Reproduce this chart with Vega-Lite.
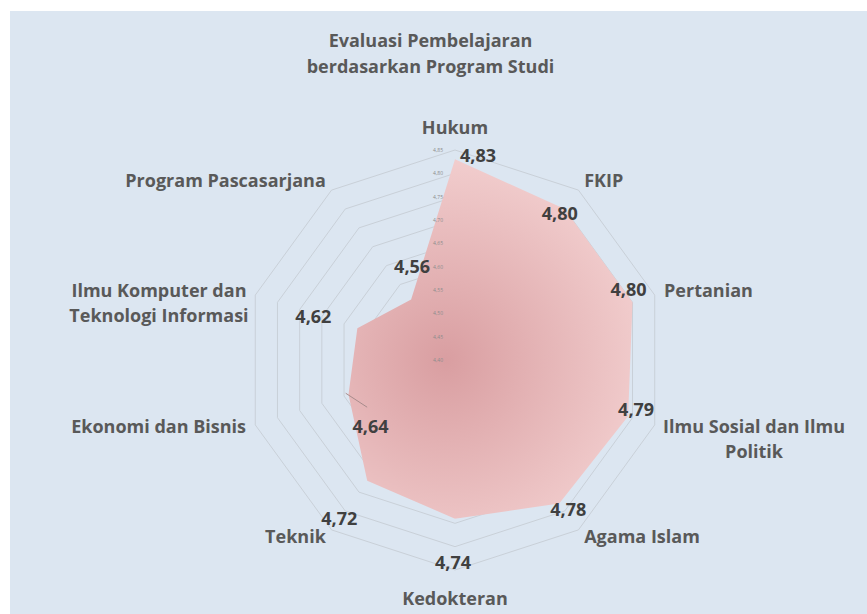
{
  "$schema": "https://vega.github.io/schema/vega-lite/v6.json",
  "width": 857,
  "height": 603,
  "autosize": {"type": "none"},
  "padding": {"left": 10, "top": 11, "right": 0, "bottom": 0},
  "background": "#ffffff",
  "config": {"view": {"fill": "#dce6f1", "stroke": null}},
  "title": {
    "text": ["Evaluasi Pembelajaran", "berdasarkan Program Studi"],
    "anchor": "middle",
    "frame": "group",
    "offset": -66,
    "dx": -8,
    "font": "Open Sans",
    "fontSize": 18,
    "fontWeight": "bold",
    "color": "#595959",
    "lineHeight": 26
  },
  "datasets": {
    "scores": [
      {"prodi": "Hukum", "nilai": 4.83},
      {"prodi": "FKIP", "nilai": 4.80},
      {"prodi": "Pertanian", "nilai": 4.80},
      {"prodi": "Ilmu Sosial dan Ilmu Politik", "nilai": 4.79},
      {"prodi": "Agama Islam", "nilai": 4.78},
      {"prodi": "Kedokteran", "nilai": 4.74},
      {"prodi": "Teknik", "nilai": 4.72},
      {"prodi": "Ekonomi dan Bisnis", "nilai": 4.64},
      {"prodi": "Ilmu Komputer dan Teknologi Informasi", "nilai": 4.62},
      {"prodi": "Program Pascasarjana", "nilai": 4.56}
    ],
    "levels": [
      {"level": 4.40}, {"level": 4.45}, {"level": 4.50}, {"level": 4.55}, {"level": 4.60},
      {"level": 4.65}, {"level": 4.70}, {"level": 4.75}, {"level": 4.80}, {"level": 4.85}
    ]
  },
  "encoding": {
    "x": {"field": "px", "type": "quantitative", "scale": {"domain": [-0.95357, 0.88286], "nice": false, "zero": false}, "axis": null},
    "y": {"field": "py", "type": "quantitative", "scale": {"domain": [-0.54429, 0.74786], "nice": false, "zero": false}, "axis": null}
  },
  "layer": [
    {
      "data": {"name": "levels"},
      "transform": [
        {"filter": "datum.level > 4.41"},
        {"calculate": "0", "as": "k"},
        {"calculate": "1", "as": "d"},
        {"impute": "d", "key": "k", "keyvals": [0, 1, 2, 3, 4, 5, 6, 7, 8, 9], "groupby": ["level"], "value": 1},
        {"calculate": "datum.k * PI / 5", "as": "a"},
        {"calculate": "(datum.level - 4.4) * sin(datum.a)", "as": "px"},
        {"calculate": "(datum.level - 4.4) * cos(datum.a)", "as": "py"}
      ],
      "mark": {"type": "line", "interpolate": "linear-closed", "stroke": "#c9d0d8", "strokeWidth": 1},
      "encoding": {
        "detail": {"field": "level", "type": "nominal"},
        "order": {"field": "k", "type": "quantitative"}
      }
    },
    {
      "data": {"name": "scores"},
      "transform": [
        {"window": [{"op": "row_number", "as": "rn"}]},
        {"calculate": "datum.rn - 1", "as": "i"},
        {"calculate": "datum.i * PI / 5", "as": "a"},
        {"calculate": "(datum.nilai - 4.4) * sin(datum.a)", "as": "px"},
        {"calculate": "(datum.nilai - 4.4) * cos(datum.a)", "as": "py"}
      ],
      "mark": {
        "type": "line",
        "interpolate": "linear-closed",
        "strokeOpacity": 0,
        "fill": {
          "gradient": "radial",
          "x1": 0.377, "y1": 0.56, "r1": 0,
          "x2": 0.377, "y2": 0.56, "r2": 0.62,
          "stops": [
            {"offset": 0, "color": "#d99ea1"},
            {"offset": 1, "color": "#f4d2d2"}
          ]
        }
      },
      "encoding": {"order": {"field": "i", "type": "quantitative"}}
    },
    {
      "data": {"name": "scores"},
      "transform": [
        {"window": [{"op": "row_number", "as": "rn"}]},
        {"calculate": "datum.rn - 1", "as": "i"},
        {"filter": "datum.i == 7"},
        {"calculate": "datum.i * PI / 5", "as": "a"},
        {"calculate": "(datum.nilai - 4.4) * sin(datum.a) - 0.006", "as": "px"},
        {"calculate": "(datum.nilai - 4.4) * cos(datum.a) + 0.003", "as": "py"},
        {"calculate": "datum.px + 0.046", "as": "px2"},
        {"calculate": "datum.py - 0.030", "as": "py2"}
      ],
      "mark": {"type": "rule", "stroke": "#a88c8c", "strokeWidth": 1},
      "encoding": {
        "x2": {"field": "px2"},
        "y2": {"field": "py2"}
      }
    },
    {
      "data": {"name": "levels"},
      "transform": [
        {"calculate": "0", "as": "px"},
        {"calculate": "datum.level - 4.4", "as": "py"},
        {"calculate": "replace(format(datum.level, '.2f'), '.', ',')", "as": "t"}
      ],
      "mark": {"type": "text", "align": "right", "baseline": "middle", "dx": -12, "font": "Open Sans", "fontSize": 5, "color": "#8c8c8c"},
      "encoding": {"text": {"field": "t", "type": "nominal"}}
    },
    {
      "data": {"name": "scores"},
      "transform": [
        {"window": [{"op": "row_number", "as": "rn"}]},
        {"calculate": "datum.rn - 1", "as": "i"},
        {"calculate": "datum.i * PI / 5", "as": "a"},
        {"calculate": "(datum.nilai - 4.4) * sin(datum.a)", "as": "px"},
        {"calculate": "(datum.nilai - 4.4) * cos(datum.a)", "as": "py"},
        {"calculate": "replace(format(datum.nilai, '.2f'), '.', ',')", "as": "t"}
      ],
      "mark": {
        "type": "text",
        "align": "center",
        "baseline": "middle",
        "dx": {"expr": "[23, -5, -4, 8, 9, -2, -28, 22, -44, 1][datum.i]"},
        "dy": {"expr": "[-2, 6, -11, -5, 8, 45, 39, 33, -10, -32][datum.i]"},
        "font": "Open Sans",
        "fontSize": 18,
        "fontWeight": "bold",
        "color": "#404040"
      },
      "encoding": {"text": {"field": "t", "type": "nominal"}}
    },
    {
      "data": {"name": "scores"},
      "transform": [
        {"window": [{"op": "row_number", "as": "rn"}]},
        {"calculate": "datum.rn - 1", "as": "i"},
        {"calculate": "datum.i * PI / 5", "as": "a"},
        {"calculate": "datum.i == 0 ? 0.494 : (datum.i == 5 ? 0.514 : 0.471)", "as": "lr"},
        {"calculate": "datum.lr * sin(datum.a)", "as": "px"},
        {"calculate": "datum.lr * cos(datum.a)", "as": "py"},
        {"calculate": "datum.i == 3 ? 'Ilmu Sosial dan Ilmu\\nPolitik' : (datum.i == 8 ? 'Ilmu Komputer dan\\nTeknologi Informasi' : datum.prodi)", "as": "lab"}
      ],
      "mark": {
        "type": "text",
        "baseline": "middle",
        "align": {"expr": "(datum.i % 5 == 0 || datum.i == 3 || datum.i == 8) ? 'center' : (datum.i < 5 ? 'left' : 'right')"},
        "dx": {"expr": "datum.i == 3 ? 90 : (datum.i == 8 ? -87 : 0)"},
        "lineBreak": "\n",
        "lineHeight": 25,
        "font": "Open Sans",
        "fontSize": 18,
        "fontWeight": "bold",
        "color": "#595959"
      },
      "encoding": {"text": {"field": "lab", "type": "nominal"}}
    }
  ]
}
